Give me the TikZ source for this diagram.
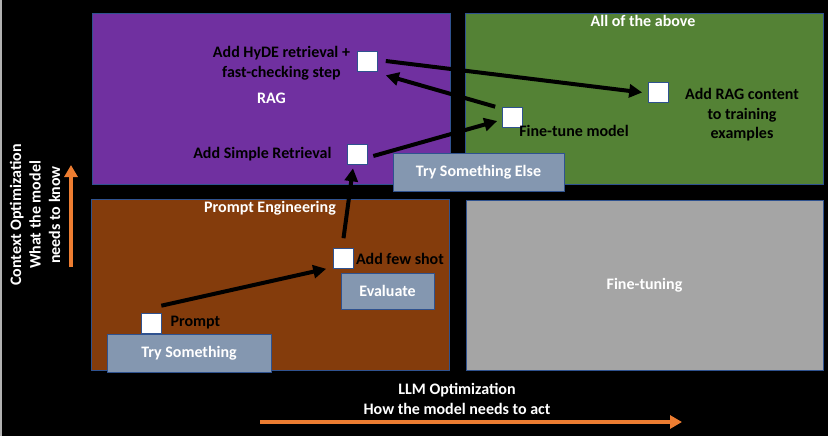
\documentclass[tikz,border=0pt]{standalone}
\usepackage{fontspec}
\setmainfont{Carlito}
\usetikzlibrary{arrows.meta,positioning}
\definecolor{ragpurple}{HTML}{7030A0}
\definecolor{allgreen}{HTML}{548235}
\definecolor{promptbrown}{HTML}{843C0C}
\definecolor{tunegrey}{HTML}{A5A5A5}
\definecolor{stepfill}{HTML}{8497B0}
\definecolor{edgeblue}{HTML}{2F528F}
\definecolor{axisorange}{HTML}{ED7D31}
\begin{document}
\begin{tikzpicture} [x=1pt, y=-1pt,
                    every node/.style={font=\bfseries\fontsize{16}{19.5}\selectfont, inner sep=0pt},
                    quad/.style={draw=edgeblue, line width=0.6pt, minimum width=358pt, minimum height=171pt, text=white},
                    stepbox/.style={draw=edgeblue, line width=0.6pt, fill=stepfill, text=white},
                    cell/.style={draw=edgeblue, line width=0.6pt, fill=white, minimum width=20pt, minimum height=20pt},
                    lbl/.style={text=black, align=center},
                    title/.style={text=white, align=center},
                    flow/.style={line width=4pt, -{Triangle[length=13pt, width=13pt]}},
                    axis/.style={draw=axisorange, line width=4pt, -{Triangle[length=12pt, width=13pt]}}
                ]
                \fill [black] (0,0) rectangle (828,436);
                \useasboundingbox (0,0) rectangle (828,436);
                \draw [gray!60, line width=2pt] (1,0) -- (1,436);
                % quadrants
                \node [quad, fill=ragpurple] (rag) at (271.5,98.5) {RAG};
                \node [quad, fill=allgreen] (all) at (644.5,98.5) {};
                \node [quad, fill=promptbrown] (prompteng) at (270.5,285) {};
                \node [quad, fill=tunegrey, minimum width=357pt, minimum height=170pt] (tuning) at (644.5,285) {Fine-tuning};
                \node [title] at (643,21) {All of the above};
                \node [title] at (270,208) {Prompt Engineering};
                % step boxes
                \node [stepbox, minimum width=164pt, minimum height=38pt] (trysome) at (189,353) {Try Something};
                \node [stepbox, minimum width=93pt, minimum height=36pt] (evaluate) at (387.5,291) {Evaluate};
                \node [stepbox, minimum width=171pt, minimum height=38pt] (tryelse) at (478.5,172) {Try Something Else};
                % check cells
                \node [cell] (promptsq) at (151,323) {};
                \node [cell] (fewsq) at (343.5,258.5) {};
                \node [cell] (simplesq) at (357,154) {};
                \node [cell] (hydesq) at (367.5,61) {};
                \node [cell] (tunesq) at (512.5,117) {};
                \node [cell] (ragsq) at (658.5,92.5) {};
                % labels
                \node [lbl, right=9pt of promptsq] (promptlbl) {Prompt};
                \node [lbl, right=2pt of fewsq] (fewlbl) {Add few shot};
                \node [lbl, left=15pt of simplesq] (simplelbl) {Add Simple Retrieval};
                \node [lbl, left=7pt of hydesq, yshift=-2pt] (hydelbl) {Add HyDE retrieval +\\fast-checking step};
                \node [lbl] (tunelbl) at (574,131) {Fine-tune model};
                \node [lbl] (raglbl) at (742,115) {Add RAG content\\to training\\examples};
                % path through the quadrants
                \draw [flow] ([yshift=7pt]promptsq.north east) -- ([xshift=-7pt]fewsq.south west);
                \draw [flow] ([yshift=10pt]fewsq.north) -- ([xshift=-4pt, yshift=-4pt]simplesq.south);
                \draw [flow] ([xshift=6pt, yshift=-2pt]simplesq.east) -- ([xshift=-5pt, yshift=-4pt]tunesq.west);
                \draw [flow] ([xshift=-7pt]tunesq.north west) -- ([xshift=8pt, yshift=-4pt]hydesq.south east);
                \draw [flow] ([xshift=8pt]hydesq.east) -- ([xshift=-6pt]ragsq.west);
                % axes
                \coordinate (xstart) at (260,422);
                \coordinate (xend) at (682,422);
                \coordinate (ystart) at (71,267);
                \coordinate (yend) at (71,165);
                \draw [axis] (xstart) -- (xend);
                \draw [axis] (ystart) -- (yend);
                \node [title] (xlbl) at (457,399) {LLM Optimization\\How the model needs to act};
                \node [title, rotate=90] (ylbl) at (35,215) {Context Optimization\\What the model\\needs to know};
                \end{tikzpicture}
\end{document}
